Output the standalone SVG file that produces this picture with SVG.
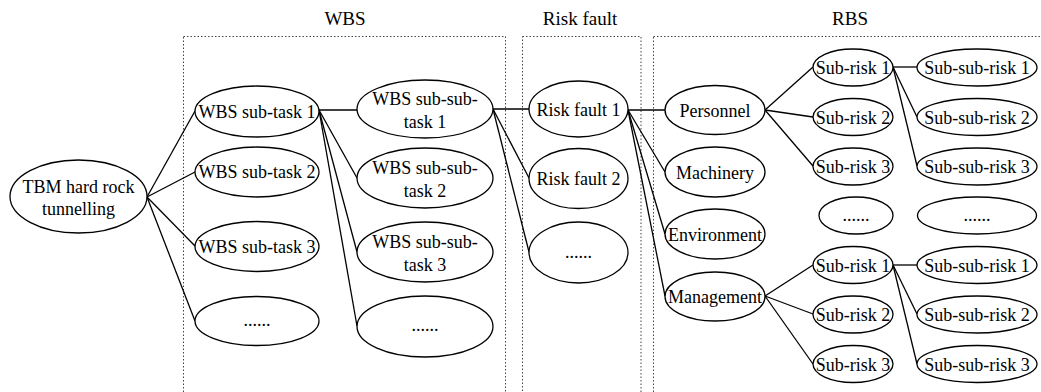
<svg xmlns="http://www.w3.org/2000/svg" width="1041" height="392" viewBox="0 0 1041 392">
  <style>
    .frame { fill: none; stroke: #444; stroke-width: 1; stroke-dasharray: 1.5 2; }
    .title { font-family: "Liberation Serif", "Times New Roman", serif; font-size: 19px; fill: #000; text-anchor: middle; }
    .node ellipse { fill: #fff; stroke: #000; stroke-width: 1.3; }
    .node text { font-family: "Liberation Serif", "Times New Roman", serif; font-size: 18px; fill: #000; text-anchor: middle; }
    #connectors line { stroke: #000; stroke-width: 1.3; }
  </style>

  <rect width="1041" height="392" fill="#fff"/>

  <!-- section frames (open at the bottom / right edge) -->
  <g id="frames">
    <rect class="frame" x="183.5" y="36.5" width="322" height="400"/>
    <rect class="frame" x="522.5" y="36.5" width="118.5" height="400"/>
    <rect class="frame" x="653.5" y="36.5" width="420" height="400"/>
    <text class="title" x="345" y="25">WBS</text>
    <text class="title" x="580" y="25">Risk fault</text>
    <text class="title" x="850" y="25">RBS</text>
  </g>

  <g id="connectors">
    <!-- root to WBS sub-tasks -->
    <line x1="147" y1="197" x2="195" y2="111"/>
    <line x1="147" y1="197" x2="195" y2="172"/>
    <line x1="147" y1="197" x2="195" y2="246"/>
    <line x1="147" y1="197" x2="195" y2="321"/>
    <!-- sub-task 1 to sub-sub-tasks -->
    <line x1="319" y1="110" x2="357" y2="110"/>
    <line x1="319" y1="110" x2="357" y2="178"/>
    <line x1="319" y1="110" x2="357" y2="252"/>
    <line x1="319" y1="110" x2="357" y2="326"/>
    <!-- sub-sub-task 1 to risk faults -->
    <line x1="493" y1="109" x2="529" y2="109"/>
    <line x1="493" y1="109" x2="529" y2="178"/>
    <line x1="493" y1="109" x2="529" y2="252"/>
    <!-- risk fault 1 to RBS categories -->
    <line x1="628" y1="110" x2="665" y2="110"/>
    <line x1="628" y1="110" x2="665" y2="172"/>
    <line x1="628" y1="110" x2="665" y2="234"/>
    <line x1="628" y1="110" x2="665" y2="296"/>
    <!-- personnel to sub-risks -->
    <line x1="765" y1="110" x2="813" y2="67"/>
    <line x1="765" y1="110" x2="813" y2="117"/>
    <line x1="765" y1="110" x2="813" y2="166"/>
    <!-- management to sub-risks -->
    <line x1="765" y1="296" x2="813" y2="265"/>
    <line x1="765" y1="296" x2="813" y2="314"/>
    <line x1="765" y1="296" x2="813" y2="364"/>
    <!-- sub-risk 1 to sub-sub-risks (upper) -->
    <line x1="893" y1="67" x2="917" y2="67"/>
    <line x1="893" y1="67" x2="917" y2="117"/>
    <line x1="893" y1="67" x2="917" y2="166"/>
    <!-- sub-risk 1 to sub-sub-risks (lower) -->
    <line x1="893" y1="265" x2="917" y2="265"/>
    <line x1="893" y1="265" x2="917" y2="314"/>
    <line x1="893" y1="265" x2="917" y2="364"/>
  </g>

  <!-- root -->
  <g id="root" class="node">
    <ellipse cx="78.5" cy="196.5" rx="68.5" ry="36.5"/>
    <text x="78.5" y="193">TBM hard rock</text>
    <text x="78.5" y="215">tunnelling</text>
  </g>

  <!-- WBS sub-tasks -->
  <g id="wbs-1" class="node"><ellipse cx="257" cy="111.5" rx="62" ry="25.5"/><text x="257" y="117.5">WBS sub-task 1</text></g>
  <g id="wbs-2" class="node"><ellipse cx="257" cy="172" rx="62" ry="25"/><text x="257" y="178">WBS sub-task 2</text></g>
  <g id="wbs-3" class="node"><ellipse cx="257" cy="246.5" rx="62" ry="25"/><text x="257" y="252.5">WBS sub-task 3</text></g>
  <g id="wbs-more" class="node"><ellipse cx="257" cy="321" rx="62" ry="24.5"/><text x="257" y="326">......</text></g>

  <!-- WBS sub-sub-tasks -->
  <g id="wbs-1-1" class="node"><ellipse cx="425" cy="109" rx="68" ry="29"/><text x="425" y="105">WBS sub-sub-</text><text x="425" y="128">task 1</text></g>
  <g id="wbs-1-2" class="node"><ellipse cx="425" cy="178" rx="68" ry="30"/><text x="425" y="174">WBS sub-sub-</text><text x="425" y="197">task 2</text></g>
  <g id="wbs-1-3" class="node"><ellipse cx="425" cy="252" rx="68" ry="30"/><text x="425" y="248">WBS sub-sub-</text><text x="425" y="271">task 3</text></g>
  <g id="wbs-1-more" class="node"><ellipse cx="425" cy="326.5" rx="68" ry="30.5"/><text x="425" y="331">......</text></g>

  <!-- risk faults -->
  <g id="fault-1" class="node"><ellipse cx="578.5" cy="109" rx="49.5" ry="28"/><text x="578.5" y="115.5">Risk fault 1</text></g>
  <g id="fault-2" class="node"><ellipse cx="578.5" cy="178.5" rx="49.5" ry="30"/><text x="578.5" y="185">Risk fault 2</text></g>
  <g id="fault-more" class="node"><ellipse cx="578.5" cy="252.5" rx="49.5" ry="30.5"/><text x="578.5" y="258">......</text></g>

  <!-- RBS categories -->
  <g id="personnel" class="node"><ellipse cx="715" cy="110" rx="50" ry="24.5"/><text x="715" y="117">Personnel</text></g>
  <g id="machinery" class="node"><ellipse cx="715" cy="172" rx="50" ry="25"/><text x="715" y="179">Machinery</text></g>
  <g id="environment" class="node"><ellipse cx="715" cy="234" rx="50" ry="25"/><text x="715" y="241">Environment</text></g>
  <g id="management" class="node"><ellipse cx="715" cy="296.5" rx="50" ry="24.5"/><text x="715" y="303">Management</text></g>

  <!-- sub-risks under personnel -->
  <g id="p-sub-1" class="node"><ellipse cx="853" cy="67.5" rx="40" ry="18.5"/><text x="853" y="74">Sub-risk 1</text></g>
  <g id="p-sub-2" class="node"><ellipse cx="853" cy="117" rx="40" ry="18.5"/><text x="853" y="123.5">Sub-risk 2</text></g>
  <g id="p-sub-3" class="node"><ellipse cx="853" cy="166.5" rx="40" ry="18.5"/><text x="853" y="173">Sub-risk 3</text></g>
  <g id="sub-more" class="node"><ellipse cx="856" cy="215.5" rx="37" ry="18.5"/><text x="856" y="221">......</text></g>

  <!-- sub-risks under management -->
  <g id="m-sub-1" class="node"><ellipse cx="853" cy="265" rx="40" ry="18.5"/><text x="853" y="271.5">Sub-risk 1</text></g>
  <g id="m-sub-2" class="node"><ellipse cx="853" cy="314.5" rx="40" ry="18.5"/><text x="853" y="321">Sub-risk 2</text></g>
  <g id="m-sub-3" class="node"><ellipse cx="853" cy="364" rx="40" ry="18.5"/><text x="853" y="370.5">Sub-risk 3</text></g>

  <!-- sub-sub-risks (upper) -->
  <g id="p-subsub-1" class="node"><ellipse cx="977" cy="67.5" rx="60" ry="18.5"/><text x="977" y="74">Sub-sub-risk 1</text></g>
  <g id="p-subsub-2" class="node"><ellipse cx="977" cy="117" rx="60" ry="18.5"/><text x="977" y="123.5">Sub-sub-risk 2</text></g>
  <g id="p-subsub-3" class="node"><ellipse cx="977" cy="166.5" rx="60" ry="18.5"/><text x="977" y="173">Sub-sub-risk 3</text></g>
  <g id="subsub-more" class="node"><ellipse cx="977" cy="215.5" rx="59.5" ry="18.5"/><text x="977" y="221">......</text></g>

  <!-- sub-sub-risks (lower) -->
  <g id="m-subsub-1" class="node"><ellipse cx="977" cy="265" rx="60" ry="18.5"/><text x="977" y="271.5">Sub-sub-risk 1</text></g>
  <g id="m-subsub-2" class="node"><ellipse cx="977" cy="314.5" rx="60" ry="18.5"/><text x="977" y="321">Sub-sub-risk 2</text></g>
  <g id="m-subsub-3" class="node"><ellipse cx="977" cy="364" rx="60" ry="18.5"/><text x="977" y="370.5">Sub-sub-risk 3</text></g>
</svg>
